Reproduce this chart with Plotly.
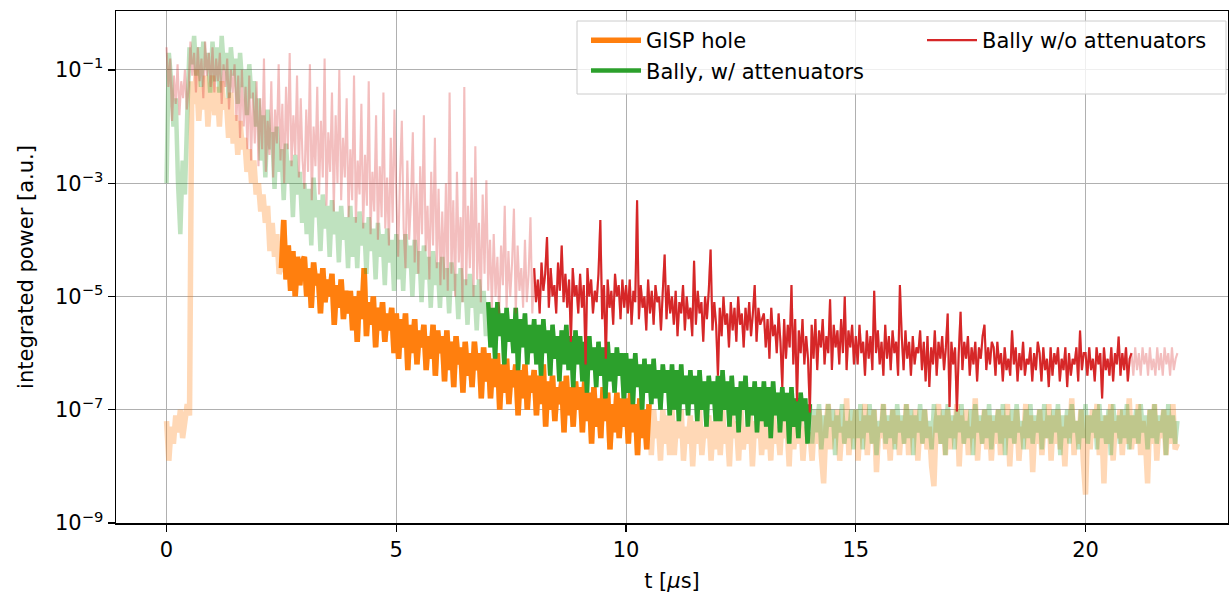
import numpy as np
import plotly.graph_objects as go

# ---- data: log10 of integrated power ----
T_START, T_END = 0.0, 22.0   # time span of every record [us], uniformly sampled

gisp_hole_log10 = [
    -7.2, -7.9, -7.3, -7.6, -7.1, -7.4, -7.0, -7.5, -7.2, -6.9, -7.1, -1.2, -1.6, -1.0, -1.9, -1.3, -1.7, -1.1, -2.0, -1.4,
    -1.1, -1.8, -1.3, -2.0, -1.2, -1.7, -1.5, -2.2, -1.4, -2.3, -1.8, -2.5, -1.9, -2.4, -2.2, -2.8, -2.4, -3.0, -2.6, -3.2,
    -3.0, -3.5, -3.2, -3.7, -3.4, -4.2, -3.7, -4.3, -3.9, -4.6, -4.5, -3.65, -4.7, -4.1, -4.9, -4.2, -5.0, -4.3, -4.8, -4.4,
    -4.3, -5.0, -4.5, -5.2, -4.4, -4.8, -4.6, -5.3, -4.5, -5.1, -4.7, -5.0, -4.6, -5.5, -4.8, -5.2, -4.7, -5.4, -4.9, -5.3,
    -4.9, -5.6, -5.0, -5.8, -4.9, -5.4, -4.5, -5.7, -5.1, -5.5, -5.0, -5.9, -5.2, -5.6, -5.1, -5.8, -5.3, -5.6, -5.2, -6.0,
    -5.3, -6.1, -5.4, -5.9, -5.3, -6.3, -5.5, -6.0, -5.4, -6.2, -5.6, -5.9, -5.5, -6.3, -5.7, -6.1, -5.5, -6.4, -5.6, -6.0,
    -5.7, -6.5, -5.6, -6.3, -5.8, -6.6, -5.7, -6.2, -5.9, -6.7, -5.8, -6.4, -6.0, -6.6, -5.8, -6.3, -6.0, -6.8, -5.9, -6.5,
    -6.0, -6.8, -6.1, -6.6, -6.0, -7.0, -6.2, -6.7, -6.1, -6.9, -6.3, -6.6, -6.2, -7.1, -6.3, -6.8, -6.2, -7.0, -6.4, -6.7,
    -6.3, -7.1, -6.4, -6.9, -6.2, -7.3, -6.5, -7.0, -6.4, -7.2, -6.6, -6.9, -6.5, -7.4, -6.4, -7.1, -6.6, -7.3, -6.5, -7.0,
    -6.6, -7.4, -6.5, -7.2, -6.7, -7.6, -6.6, -7.3, -6.8, -7.5, -6.6, -7.2, -6.7, -7.7, -6.9, -7.4, -6.7, -7.5, -6.8, -7.3,
    -6.8, -7.6, -6.7, -7.4, -6.9, -7.8, -6.8, -7.5, -7.0, -7.7, -6.9, -7.8, -7.0, -7.5, -7.2, -7.9, -7.0, -7.6, -7.1, -7.8,
    -7.0, -7.8, -7.2, -7.5, -7.0, -7.9, -7.3, -7.6, -7.1, -8.0, -7.2, -7.6, -7.0, -7.8, -7.3, -7.5, -7.1, -7.9, -7.2, -7.7,
    -7.1, -7.8, -7.0, -7.6, -7.3, -8.0, -7.1, -7.5, -7.2, -7.9, -7.0, -7.7, -7.3, -7.6, -7.1, -8.0, -7.2, -7.5, -7.0, -7.8,
    -7.2, -7.7, -7.1, -7.9, -7.0, -7.6, -7.3, -7.8, -7.1, -7.5, -7.2, -8.0, -7.0, -7.7, -7.2, -7.6, -7.1, -7.9, -7.3, -7.6,
    -7.4, -7.9, -7.1, -7.6, -7.0, -7.8, -8.3, -7.3, -6.9, -7.7, -7.2, -7.5, -7.0, -7.9, -7.3, -7.6, -6.8, -7.8, -7.2, -7.5,
    -7.0, -7.9, -7.2, -7.5, -6.9, -7.8, -7.1, -7.6, -7.0, -8.1, -7.3, -7.5, -6.9, -7.7, -7.2, -7.9, -7.0, -7.6, -7.1, -7.8,
    -7.2, -7.6, -6.9, -7.8, -7.1, -7.5, -7.0, -7.9, -7.2, -7.6, -7.0, -7.7, -7.3, -8.0, -8.35, -7.2, -6.9, -7.6, -7.1, -7.8,
    -7.0, -7.7, -7.2, -7.5, -6.9, -8.0, -7.1, -7.6, -7.0, -7.8, -7.3, -7.5, -6.8, -7.9, -7.2, -7.6, -7.0, -7.7, -7.1, -7.9,
    -7.2, -7.6, -7.0, -7.8, -7.1, -7.5, -6.9, -8.0, -7.2, -7.6, -7.0, -7.9, -7.3, -7.5, -6.9, -7.7, -7.1, -8.1, -7.2, -7.6,
    -7.0, -7.8, -7.2, -7.5, -6.9, -7.9, -7.1, -7.6, -7.0, -7.7, -7.3, -8.0, -7.1, -7.5, -6.8, -7.8, -7.2, -7.6, -7.0, -7.9,
    -8.5, -7.1, -7.7, -7.0, -7.5, -6.9, -7.8, -7.2, -8.3, -7.1, -7.6, -6.9, -7.9, -7.2, -7.5, -7.0, -7.8, -7.1, -7.6, -6.8,
    -7.7, -7.1, -7.6, -6.9, -7.8, -7.2, -7.5, -8.3, -7.0, -7.6, -6.9, -7.9, -7.2, -7.5, -7.0, -7.8, -7.1, -7.6, -6.9, -7.7,
    -7.6,
]

bally_att_log10 = [
    -3.0, -0.7, -1.2, -2.0, -1.5, -3.0, -3.9, -2.6, -3.2, -1.8, -0.6, -0.9, -0.4, -1.1, -0.6, -1.3, -0.5, -1.0, -0.7, -1.4,
    -0.5, -1.2, -0.6, -1.4, -0.4, -1.0, -0.7, -1.5, -0.6, -1.1, -0.8, -1.6, -0.7, -1.3, -1.0, -1.8, -0.9, -1.5, -1.2, -2.0,
    -1.5, -2.6, -1.8, -2.9, -1.7, -2.4, -2.1, -3.1, -2.0, -2.8, -2.4, -3.3, -2.3, -3.0, -2.6, -3.6, -2.5, -3.2, -2.8, -3.7,
    -3.0, -3.9, -3.1, -4.1, -2.9, -3.6, -3.3, -4.2, -3.2, -3.8, -3.4, -4.3, -3.3, -3.9, -3.5, -4.4, -3.4, -4.0, -3.6, -4.5,
    -3.4, -4.3, -3.6, -4.5, -3.5, -4.1, -3.7, -4.6, -3.6, -4.2, -3.8, -4.7, -3.7, -4.3, -3.9, -4.8, -3.8, -4.4, -4.0, -4.9,
    -3.9, -4.7, -4.0, -4.9, -3.9, -4.5, -4.1, -5.0, -4.0, -4.6, -4.2, -5.1, -4.1, -4.7, -4.3, -5.2, -4.2, -4.8, -4.4, -5.2,
    -4.3, -5.0, -4.5, -5.3, -4.4, -4.9, -4.6, -5.4, -4.5, -5.1, -4.7, -5.5, -4.6, -5.2, -4.8, -5.6, -4.7, -5.3, -4.9, -5.7,
    -5.1, -5.9, -5.2, -6.1, -5.1, -5.7, -5.3, -6.2, -5.2, -5.8, -5.4, -6.0, -5.2, -6.3, -5.4, -5.9, -5.3, -6.2, -5.5, -6.0,
    -5.4, -6.2, -5.5, -6.4, -5.4, -6.0, -5.6, -6.4, -5.5, -6.1, -5.7, -6.5, -5.6, -6.2, -5.5, -6.3, -5.7, -6.6, -5.6, -6.2,
    -5.7, -6.5, -5.8, -6.7, -5.7, -6.3, -5.9, -6.6, -5.8, -6.4, -5.9, -6.8, -5.8, -6.5, -6.0, -6.7, -5.9, -6.4, -6.0, -6.8,
    -6.0, -6.7, -6.1, -6.9, -6.0, -6.6, -6.2, -7.0, -6.1, -6.7, -6.2, -6.9, -6.1, -6.8, -6.3, -7.0, -6.2, -6.7, -6.3, -7.1,
    -6.2, -7.0, -6.3, -7.2, -6.2, -6.9, -6.4, -7.1, -6.3, -6.9, -6.4, -7.2, -6.3, -7.0, -6.5, -7.3, -6.4, -6.9, -6.5, -7.2,
    -6.4, -7.2, -6.3, -7.0, -6.5, -7.3, -6.4, -7.1, -6.6, -7.4, -6.5, -7.0, -6.4, -7.3, -6.6, -7.1, -6.5, -7.4, -6.6, -7.2,
    -6.5, -7.3, -6.6, -7.5, -6.5, -7.1, -6.7, -7.4, -6.6, -7.2, -6.7, -7.6, -6.6, -7.3, -6.8, -7.5, -6.7, -7.2, -6.8, -7.6,
    -6.9, -7.6, -7.0, -7.4, -6.9, -7.7, -7.1, -7.5, -6.9, -7.3, -7.0, -7.8, -7.1, -7.4, -6.9, -7.6, -7.2, -7.5, -7.0, -7.7,
    -7.0, -7.5, -6.9, -7.7, -7.1, -7.4, -6.9, -7.6, -7.0, -7.8, -7.2, -7.4, -6.9, -7.6, -7.1, -7.5, -7.0, -7.7, -6.9, -7.4,
    -7.1, -7.6, -6.9, -7.5, -7.0, -7.8, -7.1, -7.4, -6.9, -7.6, -7.0, -7.5, -7.2, -7.7, -6.9, -7.4, -7.1, -7.6, -7.0, -7.8,
    -6.9, -7.5, -7.1, -7.7, -7.0, -7.4, -6.9, -7.6, -7.2, -7.5, -7.0, -7.8, -6.9, -7.4, -7.1, -7.6, -7.0, -7.5, -6.9, -7.7,
    -7.1, -7.4, -7.0, -7.6, -6.9, -7.8, -7.1, -7.5, -7.0, -7.6, -6.9, -7.4, -7.2, -7.7, -7.0, -7.5, -6.9, -7.6, -7.1, -7.4,
    -7.0, -7.7, -6.9, -7.5, -7.1, -7.6, -7.0, -7.4, -6.9, -7.8, -7.1, -7.5, -7.0, -7.6, -6.9, -7.4, -7.2, -7.7, -7.0, -7.5,
    -6.9, -7.6, -7.1, -7.4, -7.0, -7.7, -6.9, -7.5, -7.1, -7.6, -7.0, -7.8, -6.9, -7.4, -7.1, -7.6, -7.0, -7.5, -6.9, -7.7,
    -7.1, -7.5, -7.0, -7.6, -6.9, -7.4, -7.1, -7.7, -7.0, -7.5, -6.9, -7.6, -7.1, -7.4, -7.0, -7.8, -6.9, -7.5, -7.1, -7.6,
    -7.2,
]

bally_noatt_log10 = [
    -0.6, -1.3, -0.8, -1.9, -1.1, -1.6, -0.9, -1.8, -1.2, -1.5, -1.0, -1.7, -1.3, -0.5, -1.1, -0.7, -1.4, -0.6, -1.2, -0.8, -1.5, -0.5, -1.1, -0.7, -1.3,
    -0.6, -1.4, -0.8, -1.2, -0.7, -1.6, -0.9, -1.3, -0.8, -1.7, -1.0, -1.4, -0.9, -1.9, -1.1, -2.2, -1.0, -2.0, -1.3, -2.4, -1.1, -2.6, -1.4, -2.3, -1.2,
    -2.7, -1.5, -2.4, -0.8, -2.8, -1.9, -2.5, -1.2, -2.9, -1.7, -2.3, -0.9, -2.6, -1.6, -3.0, -1.3, -2.4, -0.7, -2.7, -1.8, -2.5, -1.1, -2.9, -1.5, -2.6,
    -3.1, -1.7, -2.8, -0.9, -3.3, -2.0, -2.7, -1.3, -3.2, -1.9, -2.9, -0.8, -3.4, -2.1, -2.8, -1.4, -3.5, -1.8, -3.0, -1.0, -3.3, -2.2, -2.9, -1.5, -3.6,
    -2.4, -3.3, -1.1, -3.7, -2.6, -3.2, -1.6, -3.8, -2.5, -3.4, -1.2, -3.9, -2.8, -3.5, -1.8, -4.0, -2.7, -3.6, -1.4, -3.8, -2.9, -4.1, -2.2, -3.7, -1.7,
    -3.2, -4.3, -2.9, -1.9, -3.8, -4.5, -2.6, -4.0, -3.3, -2.1, -4.4, -3.0, -4.6, -2.7, -3.9, -1.8, -4.2, -3.4, -4.7, -2.8, -4.1, -2.2, -4.5, -3.1, -4.8,
    -3.5, -4.7, -3.0, -4.9, -1.4, -4.6, -3.3, -5.0, -2.8, -4.4, -3.6, -5.1, -1.3, -4.8, -3.4, -4.5, -2.9, -5.0, -2.35, -4.7, -3.7, -5.1, -3.2, -4.6, -2.95,
    -4.9, -4.0, -5.2, -3.9, -5.0, -4.3, -5.3, -4.1, -4.8, -3.4, -5.2, -4.2, -5.0, -4.4, -3.45, -5.3, -4.1, -4.9, -4.5, -5.2, -4.0, -5.1, -4.6, -3.6, -5.3,
    -4.5, -5.1, -4.7, -5.3, -4.4, -4.9, -4.6, -3.95, -5.2, -4.5, -5.0, -4.8, -5.3, -4.4, -4.9, -4.1, -5.1, -4.6, -5.2, -4.7, -5.8, -4.5, -5.0, -4.8, -5.3,
    -4.6, -5.2, -4.8, -6.2, -4.5, -5.0, -4.7, -5.3, -4.9, -5.1, -4.6, -3.65, -5.4, -4.8, -6.1, -4.7, -5.2, -4.9, -5.5, -4.6, -5.0, -4.8, -5.4, -4.7, -5.2,
    -4.8, -5.3, -4.7, -5.5, -4.9, -5.1, -3.3, -5.4, -4.8, -5.2, -5.0, -5.6, -4.7, -5.3, -4.9, -5.5, -4.8, -5.1, -5.0, -5.6, -4.9, -4.26, -5.4, -4.8, -5.3,
    -5.0, -5.5, -4.9, -5.7, -5.1, -5.3, -4.8, -5.6, -5.0, -5.4, -5.2, -5.7, -4.37, -5.5, -4.9, -5.3, -5.1, -5.8, -5.0, -5.4, -4.9, -4.17, -5.6, -5.1, -5.5,
    -6.4, -5.2, -5.7, -5.0, -5.5, -5.3, -5.9, -5.1, -5.6, -5.2, -5.8, -5.0, -5.5, -5.3, -5.9, -5.2, -5.6, -5.1, -5.7, -5.3, -4.8, -5.8, -5.2, -5.5, -5.4,
    -5.3, -5.9, -5.4, -6.1, -5.2, -5.7, -5.5, -6.0, -5.3, -5.8, -6.6, -5.4, -6.1, -5.5, -5.9, -4.8, -6.2, -5.4, -6.85, -5.6, -6.0, -5.4, -6.2, -5.7, -6.1,
    -7.05, -5.5, -6.1, -5.4, -6.3, -5.6, -5.9, -5.4, -6.2, -5.7, -6.0, -5.05, -6.3, -5.5, -5.9, -5.6, -6.2, -5.4, -6.0, -5.0, -6.3, -5.6, -5.9, -5.5, -6.2,
    -5.7, -6.2, -5.5, -6.0, -5.8, -6.4, -5.6, -6.1, -5.7, -6.3, -4.9, -6.0, -5.6, -6.2, -5.8, -6.4, -5.5, -6.1, -5.7, -6.3, -5.6, -6.0, -5.8, -6.4, -4.8,
    -5.7, -6.3, -5.6, -6.1, -5.8, -6.4, -5.7, -6.2, -5.9, -6.0, -5.6, -6.3, -5.8, -6.5, -5.7, -6.6, -5.9, -6.2, -5.6, -6.4, -5.8, -6.1, -5.7, -6.3, -5.9,
    -5.3, -6.95, -5.8, -6.2, -5.9, -7.03, -6.0, -5.27, -6.3, -5.8, -6.1, -5.7, -6.4, -5.9, -6.2, -5.8, -6.5, -5.9, -6.1, -5.7, -5.5, -6.3, -5.9, -6.2, -5.8,
    -5.9, -6.4, -5.8, -6.2, -6.0, -6.5, -5.9, -6.3, -6.1, -6.4, -5.6, -6.2, -5.9, -6.5, -6.0, -6.3, -5.8, -6.4, -6.1, -6.2, -5.9, -6.5, -6.0, -6.3, -5.8,
    -6.0, -6.5, -5.9, -6.3, -6.1, -6.6, -5.9, -6.4, -6.0, -6.2, -5.9, -6.5, -6.1, -6.3, -5.9, -6.6, -6.0, -6.4, -6.1, -6.2, -5.9, -6.5, -5.6, -6.3, -6.0,
    -6.0, -6.4, -5.9, -6.3, -6.1, -6.5, -5.9, -6.2, -6.0, -6.8, -5.9, -6.3, -6.1, -6.4, -5.9, -6.5, -6.0, -6.2, -5.71, -6.4, -6.0, -6.3, -5.9, -6.5, -6.1,
    -6.0, -6.4, -5.9, -6.3, -6.0, -6.4, -5.9, -6.2, -6.0, -6.4, -5.9, -6.3, -6.1, -6.4, -5.9, -6.3, -6.0, -6.4, -5.9, -6.2, -6.0, -6.4, -5.9, -6.3, -6.1,
    -6.0,
]

# time windows drawn opaque for each record [us]
gisp_window = (2.5, 10.5)
bally_att_window = (7.0, 14.0)
bally_noatt_window = (8.0, 21.0)

series_names = ["GISP hole", "Bally, w/ attenuators", "Bally w/o attenuators"]
y_tick_exponents = [-9, -7, -5, -3, -1]
x_ticks = [0, 5, 10, 15, 20]

# ---- figure ----
FONT = "DejaVu Sans"
FS = 21
L, R, T, B = 116, 1228, 11, 523          # plot-area pixel box
W, H = 1229, 594


def px(x):
    return (x - L) / (R - L)


def py(y):
    return (B - y) / (B - T)


fig = go.Figure()

specs = [
    (gisp_hole_log10, gisp_window, (255, 127, 14), 5.5, 5.5, series_names[0], "legend", "g1"),
    (bally_att_log10, bally_att_window, (44, 160, 44), 4.5, 4.5, series_names[1], "legend", "g2"),
    (bally_noatt_log10, bally_noatt_window, (214, 39, 40), 2.1, 2.1, series_names[2], "legend2", "g3"),
]

for vals, (w0, w1), rgb, w_faint, w_bold, name, leg, grp in specs:
    v = np.array(vals, dtype=float)
    t = np.linspace(T_START, T_END, len(v))
    p = 10.0 ** v
    r, g, b = rgb
    fig.add_trace(go.Scatter(
        x=t, y=p, mode="lines",
        line=dict(color=f"rgba({r},{g},{b},0.3)", width=w_faint, simplify=False),
        showlegend=False, hoverinfo="skip"))
    m = (t >= w0 - 1e-9) & (t <= w1 + 1e-9)
    fig.add_trace(go.Scatter(
        x=t[m], y=p[m], mode="lines", name=name, legend=leg, legendgroup=grp,
        line=dict(color=f"rgb({r},{g},{b})", width=w_bold, simplify=False)))

legend_common = dict(
    bgcolor="rgba(0,0,0,0)", borderwidth=0, yanchor="top", xanchor="left",
    font=dict(family=FONT, size=FS, color="black"), itemwidth=50,
    traceorder="grouped", tracegroupgap=0,
)

fig.update_layout(
    width=W, height=H,
    margin=dict(l=L, r=W - R, t=T, b=H - B),
    paper_bgcolor="white", plot_bgcolor="white",
    font=dict(family=FONT, size=FS, color="black"),
    legend=dict(x=px(586), y=py(20), **legend_common),
    legend2=dict(x=px(922), y=py(20), **legend_common),
    shapes=[dict(
        type="rect", xref="paper", yref="paper", layer="above",
        x0=px(577), x1=px(1226), y0=py(94), y1=py(21),
        fillcolor="rgba(255,255,255,0.8)", line=dict(color="#cccccc", width=1),
    )],
)

axis_common = dict(
    ticks="outside", ticklen=7, tickwidth=1.3, tickcolor="black",
    showline=True, linecolor="black", linewidth=1.5, mirror=True,
    showgrid=True, gridcolor="#b0b0b0", gridwidth=1, zeroline=False,
    automargin=False, tickfont=dict(size=FS, family=FONT, color="black"),
)

fig.update_xaxes(
    range=[-1.1, 23.1], tickvals=x_ticks,
    title=dict(text="t [<i>μ</i>s]", standoff=12, font=dict(size=FS)),
    **axis_common,
)
fig.update_yaxes(
    type="log", range=[-9, 0.04],
    tickvals=[10.0 ** e for e in y_tick_exponents],
    ticktext=[f"10<sup>−{-e}</sup>" for e in y_tick_exponents],
    title=dict(text="integrated power [a.u.]", standoff=15, font=dict(size=FS)),
    **axis_common,
)

fig.write_html(
    "out.html",
    config={"displayModeBar": False, "staticPlot": True},
    post_script="document.body.style.margin='0px';",
)
